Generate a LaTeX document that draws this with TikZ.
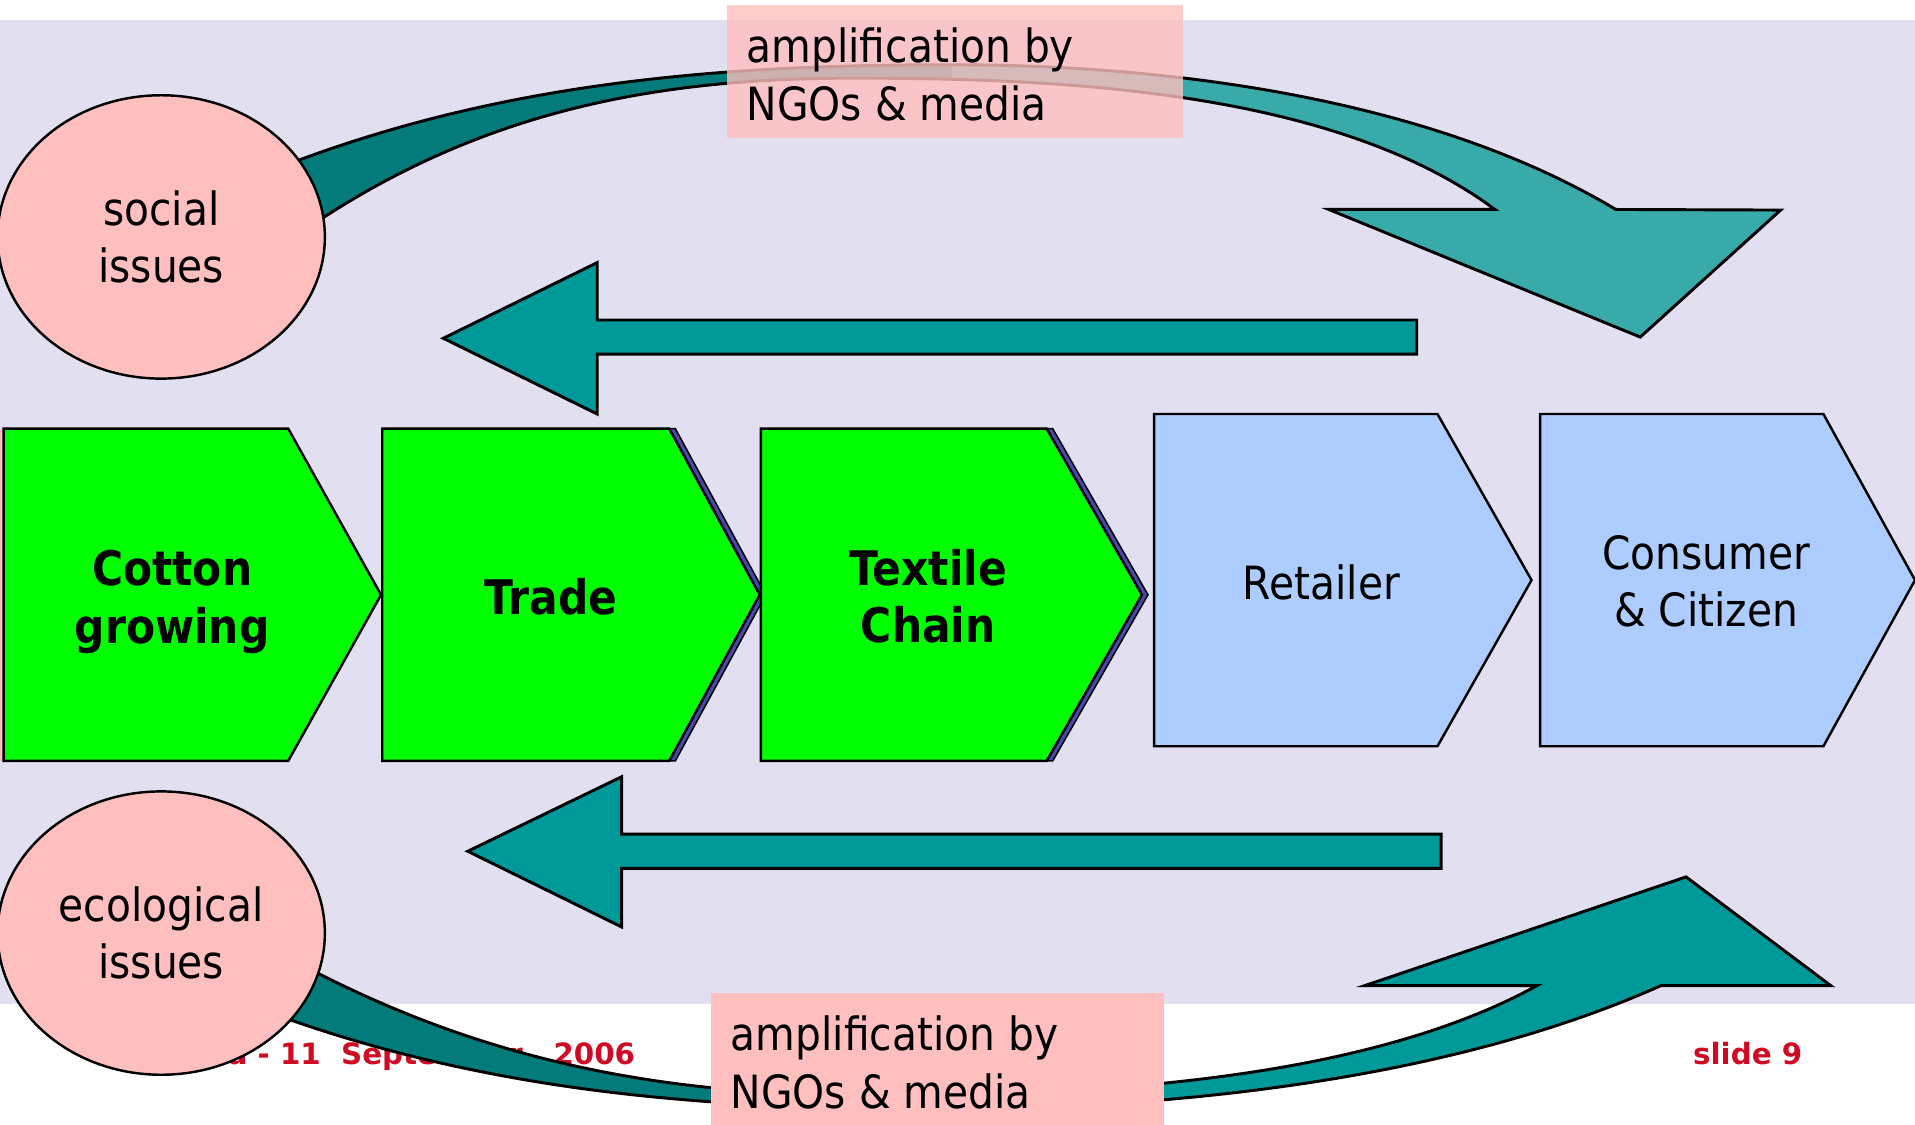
\documentclass[tikz,border=0pt]{standalone}
\usepackage{fontspec}
\setmainfont{DejaVu Sans}[FakeStretch=0.89]
\newfontfamily\footfont{DejaVu Sans}
\usetikzlibrary{shapes.geometric}
\definecolor{bglav}{HTML}{E1DFF0}
\definecolor{pinkbox}{HTML}{FFBFBF}
\definecolor{tealmid}{HTML}{009999}
\definecolor{tealdark}{HTML}{037B7A}
\definecolor{teallight}{HTML}{38AAAA}
\definecolor{chevgreen}{HTML}{00FF00}
\definecolor{chevblue}{HTML}{ADCCFF}
\definecolor{shadowblue}{HTML}{4848A8}
\definecolor{footred}{HTML}{CF0A22}
\newcommand{\topArrowShape}{(200,147.7) -- (245,131) .. controls (423,65) and (602,53) .. (780,53) .. controls (961,53) and (1173,81.5) .. (1323,171.5) -- (1458,172) -- (1343,276) -- (1088,171.5) -- (1224,171.5) .. controls (1094,75) and (875,64) .. (700,64) .. controls (555,64) and (410,84) .. (265,178) -- (225,204) -- cycle}
\newcommand{\botArrowShape}{(205,824) -- (237.5,835) .. controls (415,897) and (592,908) .. (770,908) .. controls (967,908) and (1190,883) .. (1360,807) -- (1499,807) -- (1380.5,718) -- (1117.5,807) -- (1258.5,807) .. controls (1118.5,884) and (900,897) .. (720,897) .. controls (567,897) and (420,878) .. (260.5,797) -- (225,779) -- cycle}
\begin{document}
\begin{tikzpicture}[x=0.5pt,y=-0.5pt,
  chev/.style={draw=black, line width=1pt, line join=miter},
  chevshadow/.style={draw=black, line width=0.6pt, line join=miter, fill=shadowblue},
  arrowline/.style={draw=black, line width=1.2pt, line join=miter},
  lbl/.style={font=\fontsize{18.75pt}{23.5pt}\selectfont, align=center, inner sep=0pt},
  boldlbl/.style={font=\fontsize{19.5pt}{23.5pt}\selectfont\bfseries, align=center, inner sep=0pt},
  issue/.style={ellipse, draw=black, fill=pinkbox, line width=1pt, minimum width=134pt, minimum height=116pt, inner sep=0pt, font=\fontsize{18.75pt}{23.5pt}\selectfont, align=center},
  foot/.style={font=\footfont\bfseries\fontsize{12pt}{14pt}\selectfont, text=footred, inner sep=0pt, anchor=base west},
  ampbox/.style={fill=pinkbox, inner sep=0pt, anchor=north west}]
\useasboundingbox (0,0) rectangle (1568,921);
\fill[white] (0,0) rectangle (1568,921);
\fill[bglav] (0,16) rectangle (1568,822);
% footer
\node[foot] (date) at (186,872) {a - 11~ September~~ 2006};
\node[foot] (slide) at (1386,872) {slide 9};
% curved arrows
\begin{scope}
  \clip (0,0) rectangle (780,921);
  \fill[tealdark] \topArrowShape;
\end{scope}
\begin{scope}
  \clip (780,0) rectangle (1568,921);
  \fill[teallight] \topArrowShape;
\end{scope}
\draw[arrowline] \topArrowShape;
\begin{scope}
  \clip (0,0) rectangle (768,921);
  \fill[tealdark] \botArrowShape;
\end{scope}
\begin{scope}
  \clip (768,0) rectangle (1568,921);
  \fill[tealmid] \botArrowShape;
\end{scope}
\draw[arrowline] \botArrowShape;
% straight arrows
\draw[arrowline, fill=tealmid] (1160,262) -- (489,262) -- (489,215) -- (363,277) -- (489,339) -- (489,290) -- (1160,290) -- cycle;
\draw[arrowline, fill=tealmid] (1180,683) -- (509,683) -- (509,636) -- (383,697) -- (509,759) -- (509,711) -- (1180,711) -- cycle;
% chevrons
\fill[pinkbox] (0,351) rectangle (3,623);
\draw[chev, fill=chevgreen] (3,351) -- (236,351) -- (312,487) -- (236,623) -- (3,623) -- cycle;
\draw[chevshadow] (318,351) -- (553,351) -- (627,487) -- (553,623) -- (318,623) -- cycle;
\draw[chev, fill=chevgreen] (313,351) -- (548,351) -- (622,487) -- (548,623) -- (313,623) -- cycle;
\draw[chevshadow] (628,351) -- (862,351) -- (940,487) -- (862,623) -- (628,623) -- cycle;
\draw[chev, fill=chevgreen] (623,351) -- (857,351) -- (935,487) -- (857,623) -- (623,623) -- cycle;
\draw[chev, fill=chevblue] (945,339) -- (1177,339) -- (1254,475) -- (1177,611) -- (945,611) -- cycle;
\draw[chev, fill=chevblue] (1261,339) -- (1493,339) -- (1568,475) -- (1493,611) -- (1261,611) -- cycle;
\node[boldlbl] (cotton) at (141,493) {Cotton\\growing};
\node[boldlbl] (trade) at (451,489) {Trade};
\node[boldlbl] (textile) at (760,488) {Textile\\Chain};
\node[lbl] (retailer) at (1082,477) {Retailer};
\node[lbl] (consumer) at (1397,476) {Consumer\\\& Citizen};
% issue ellipses
\node[issue] (social) at (132,194) {social\\issues};
\node[issue] (eco) at (132,764) {ecological\\issues};
% amplification boxes
\node[ampbox, fill opacity=0.8, minimum width=186.5pt, minimum height=54.5pt] (ampTop) at (595,4) {};
\node[lbl, align=left, anchor=north west] (ampTopText) at (611,22.5) {amplification by\\NGOs \& media};
\node[ampbox, minimum width=185.5pt, minimum height=54pt] (ampBot) at (582,813) {};
\node[lbl, align=left, anchor=north west] (ampBotText) at (598,831.5) {amplification by\\NGOs \& media};
\end{tikzpicture}
\end{document}
